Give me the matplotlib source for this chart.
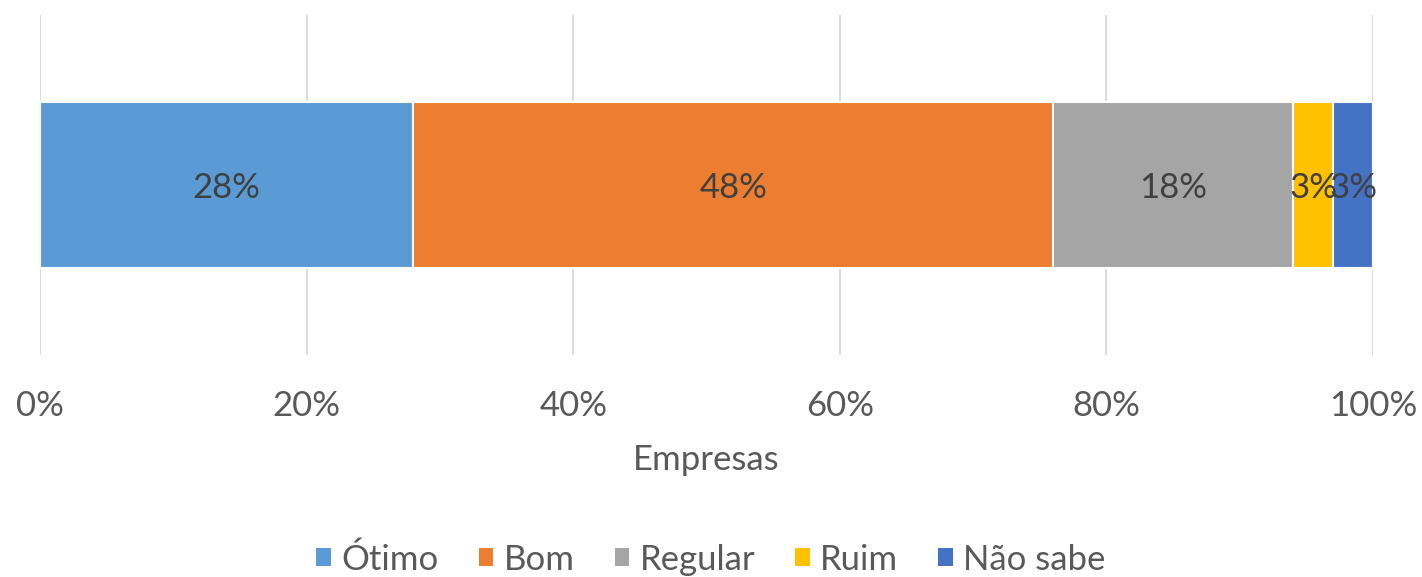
import matplotlib.pyplot as plt
from matplotlib.patches import Patch
import matplotlib.ticker as ticker

plt.rcParams["font.family"] = ["Lato", "DejaVu Sans"]

CATEGORY = "Empresas"
SERIES   = ["Ótimo", "Bom", "Regular", "Ruim", "Não sabe"]
VALUES   = [28, 48, 18, 3, 3]
COLORS   = ["#5B9BD5", "#ED7D31", "#A5A5A5", "#FFC000", "#4472C4"]
XTICKS   = [0, 20, 40, 60, 80, 100]

TEXT_COLOR = "#595959"
FS = 25

fig = plt.figure(figsize=(14.22, 5.77), dpi=100)
ax = fig.add_axes([40 / 1422, 1 - 355 / 577, 1333 / 1422, 340 / 577])

left = 0
for name, val, col in zip(SERIES, VALUES, COLORS):
    ax.barh(0.5, val, left=left, height=0.49, color=col,
            edgecolor="white", linewidth=1.5, zorder=2, label=name)
    ax.text(left + val / 2, 0.49, f"{val}%", ha="center", va="center",
            fontsize=FS, color="#404040", zorder=3)
    left += val

ax.set_xlim(0, 100)
ax.set_ylim(0, 1)
ax.set_xticks(XTICKS)
ax.xaxis.set_major_formatter(ticker.FuncFormatter(lambda x, _: f"{int(x)}%"))
ax.set_yticks([])
ax.tick_params(axis="x", length=0, pad=25, labelsize=FS, labelcolor=TEXT_COLOR)
ax.grid(axis="x", color="#D9D9D9", linewidth=1.3, zorder=0)
ax.set_axisbelow(True)
for s in ax.spines.values():
    s.set_visible(False)

ax.set_xlabel(CATEGORY, fontsize=FS, color=TEXT_COLOR, labelpad=16)

handles = [Patch(facecolor=c, edgecolor="none") for c in COLORS]
fig.legend(handles, SERIES, loc="lower center", bbox_to_anchor=(0.5, -0.052),
           ncol=5, frameon=False, fontsize=FS, labelcolor=TEXT_COLOR,
           handlelength=0.42, handleheight=0.42, handletextpad=0.3,
           columnspacing=1.15)

fig.savefig("out.png", dpi=100)
